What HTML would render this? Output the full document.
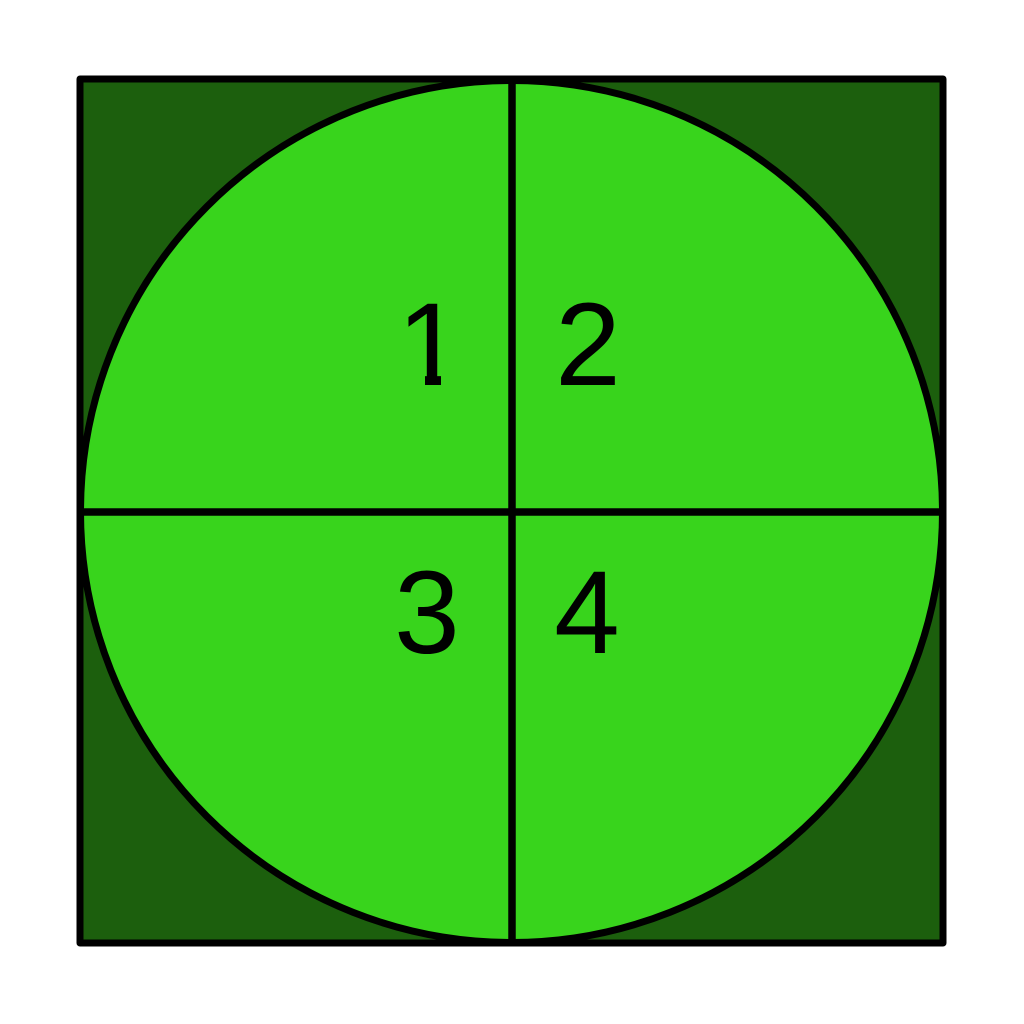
<!DOCTYPE html>
<html><head><meta charset="utf-8"><style>html,body{margin:0;padding:0;background:#fff}svg{display:block}</style></head>
<body>
<svg width="1024" height="1024" viewBox="0 0 1024 1024">
<rect x="80" y="79" width="863" height="864" fill="#1c5f0d" stroke="#000" stroke-width="7" stroke-linejoin="round"/>
<circle cx="511.5" cy="511.5" r="431" fill="#38d41c" stroke="#000" stroke-width="7"/>
<line x1="512" y1="79" x2="512" y2="943" stroke="#000" stroke-width="7.5"/>
<line x1="80" y1="512" x2="943" y2="512" stroke="#000" stroke-width="7.5"/>
<g font-family="Liberation Sans, sans-serif" font-size="118" fill="#000" text-anchor="middle">
<text x="430" y="385">1</text>
<text x="588" y="385">2</text>
<text x="427" y="653">3</text>
<text x="587" y="653">4</text>
</g>
<rect x="396" y="373" width="29" height="20" fill="#38d41c"/>
<rect x="441" y="373" width="26" height="20" fill="#38d41c"/>
</svg>
</body></html>
